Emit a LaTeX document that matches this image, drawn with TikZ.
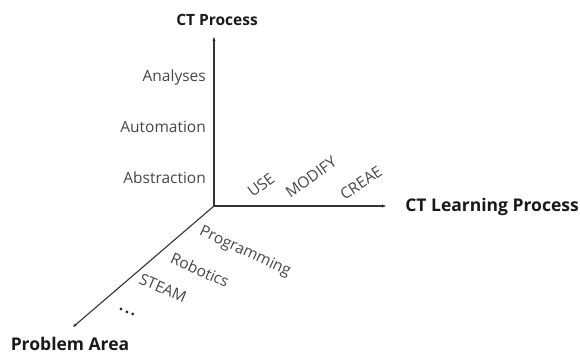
\documentclass[tikz,border=0pt]{standalone}
\usepackage{fontspec}
\setmainfont{Open Sans}
\usetikzlibrary{arrows.meta}
\begin{document}
\begin{tikzpicture}[x=1pt,y=-1pt,
  axis/.style={line width=1.1pt,draw=black!80,-{Stealth[length=4pt,width=3pt]}},
  axtitle/.style={font=\fontsize{17.5}{20}\selectfont\bfseries,text=black!90,inner sep=0pt},
  item/.style={font=\fontsize{15.5}{18}\selectfont,text=black!72,inner sep=0pt}]
  \useasboundingbox (0,0) rectangle (580,355);
  % axes
  \coordinate (o) at (214,206);
  \coordinate (up) at (214,37);
  \coordinate (right) at (386,206);
  \coordinate (down) at (73,327);
  \draw[axis] (o) -- (up);
  \draw[axis] (o) -- (right);
  \draw[axis] (o) -- (down);
  % axis titles
  \node[axtitle,font=\fontsize{15.5}{18}\selectfont\bfseries] (ctp) at (217,20) {CT Process};
  \node[axtitle,anchor=east] (ctl) at (579,207) {CT Learning Process};
  \node[axtitle] (pa) at (70,344) {Problem Area};
  % CT process stages
  \node[item,anchor=east] (an) at (206,77) {Analyses};
  \node[item,anchor=east] (au) at (206,127) {Automation};
  \node[item,anchor=east] (ab) at (206,178) {Abstraction};
  % learning stages
  \node[item,rotate=37] (use) at (261,185) {USE};
  \node[item,rotate=36] (mod) at (311,177) {MODIFY};
  \node[item,rotate=34] (cre) at (361,183) {CREAE};
  % problem areas
  \node[item,rotate=-25] (prog) at (245,252) {Programming};
  \node[item,rotate=-24] (rob) at (200,270) {Robotics};
  \node[item,rotate=-23] (steam) at (163,288) {STEAM};
  \node[item,rotate=-25,text=black!85] (dots) at (127,312) {\textbf{.\kern2pt.\kern2pt.}};
\end{tikzpicture}
\end{document}
